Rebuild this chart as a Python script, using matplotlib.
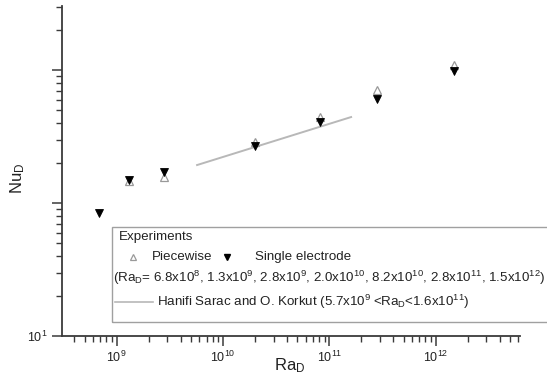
import matplotlib
matplotlib.use('Agg')
import matplotlib.pyplot as plt
from matplotlib.lines import Line2D
from matplotlib.patches import Rectangle
import matplotlib.ticker as mt

plt.rcParams['font.family'] = ['Liberation Sans', 'DejaVu Sans']
plt.rcParams['mathtext.fontset'] = 'custom'
plt.rcParams['mathtext.rm'] = 'Liberation Sans'
plt.rcParams['mathtext.it'] = 'Liberation Sans:italic'
plt.rcParams['mathtext.default'] = 'regular'

# ---- data ----
ra = [6.8e8, 1.3e9, 2.8e9, 2.0e10, 8.2e10, 2.8e11, 1.5e12]
nu_piecewise = [float('nan'), 147, 158, 289, 441, 708, 1091]
nu_single = [84, 149, 172, 270, 405, 605, 988]
corr_ra = [5.7e9, 1.6e11]
corr_nu = [193, 443]
xtick_vals = [1e9, 1e10, 1e11, 1e12]
xtick_labels = [r'$10^{9}$', r'$10^{10}$', r'$10^{11}$', r'$10^{12}$']
ytick_vals = [10, 100, 1000]
ytick_labels = [r'$10^{1}$', '', '']

W, H = 547, 383
TXT = '#222222'
AX = '#3a3a3a'

fig = plt.figure(figsize=(W / 100, H / 100), dpi=100)
ax = fig.add_axes([61.7 / W, 1 - 336 / H, (520 - 61.7) / W, (336 - 6) / H])

ax.set_xscale('log')
ax.set_yscale('log')
ax.set_xlim(3.04e8, 6.2e12)
ax.set_ylim(10, 3030)

ax.plot(corr_ra, corr_nu, color='#b8b8b8', lw=1.4, zorder=2)
ax.plot(ra, nu_piecewise, ls='none', marker='^', ms=6, mfc='white',
        mec='#999999', mew=0.9, zorder=3)
ax.plot(ra, nu_single, ls='none', marker='v', ms=6, mfc='black',
        mec='black', mew=0.6, zorder=4)

for s in ['top', 'right']:
    ax.spines[s].set_visible(False)
for s in ['left', 'bottom']:
    ax.spines[s].set_color(AX)
    ax.spines[s].set_linewidth(1.3)

ax.xaxis.set_major_locator(mt.FixedLocator(xtick_vals))
ax.xaxis.set_major_formatter(mt.FixedFormatter(xtick_labels))
ax.yaxis.set_major_locator(mt.FixedLocator(ytick_vals))
ax.yaxis.set_major_formatter(mt.FixedFormatter(ytick_labels))
ax.xaxis.set_minor_locator(mt.LogLocator(base=10, subs=range(2, 10), numticks=50))
ax.yaxis.set_minor_locator(mt.LogLocator(base=10, subs=range(2, 10), numticks=50))
ax.xaxis.set_minor_formatter(mt.NullFormatter())
ax.yaxis.set_minor_formatter(mt.NullFormatter())
ax.tick_params(which='major', direction='out', length=7, width=1.1,
               color=AX, labelsize=9, labelcolor=TXT, pad=3)
ax.tick_params(which='minor', direction='out', length=4, width=1.0, color=AX)


def fx(x):
    return x / W


def fy(y):
    return 1 - y / H


# axis labels placed explicitly
fig.text(fx(290), fy(366), r'$Ra_D$', fontsize=12, color=TXT, ha='center', va='center')
fig.text(fx(18), fy(178), r'$Nu_D$', fontsize=12, color=TXT, ha='center', va='center',
         rotation=90)

# ---- legend box (manual) ----
fig.patches.append(Rectangle((fx(112), fy(322)), fx(600) - fx(112), fy(227) - fy(322),
                             transform=fig.transFigure, fill=False,
                             ec='#a0a0a0', lw=1.0))
fs = 9.6
fig.text(fx(119), fy(237), 'Experiments', fontsize=fs, color=TXT, va='center', ha='left')
fig.lines.append(Line2D([fx(133)], [fy(257)], transform=fig.transFigure, ls='none',
                        marker='^', ms=5, mfc='white', mec='#999999', mew=0.9))
fig.text(fx(152), fy(257), 'Piecewise', fontsize=fs, color=TXT, va='center', ha='left')
fig.lines.append(Line2D([fx(227)], [fy(257)], transform=fig.transFigure, ls='none',
                        marker='v', ms=5, mfc='black', mec='black'))
fig.text(fx(255), fy(257), 'Single electrode', fontsize=fs, color=TXT, va='center', ha='left')
fig.text(fx(113), fy(278),
         r'(Ra$_D$= 6.8x10$^{8}$, 1.3x10$^{9}$, 2.8x10$^{9}$, 2.0x10$^{10}$, '
         r'8.2x10$^{10}$, 2.8x10$^{11}$, 1.5x10$^{12}$)',
         fontsize=fs, color=TXT, va='center', ha='left')
fig.lines.append(Line2D([fx(115), fx(153)], [fy(302), fy(302)], transform=fig.transFigure,
                        color='#b8b8b8', lw=1.2))
fig.text(fx(157), fy(302),
         r'Hanifi Sarac and O. Korkut (5.7x10$^{9}$ <Ra$_D$<1.6x10$^{11}$)',
         fontsize=fs, color=TXT, va='center', ha='left')

fig.savefig('out.png', dpi=100)
